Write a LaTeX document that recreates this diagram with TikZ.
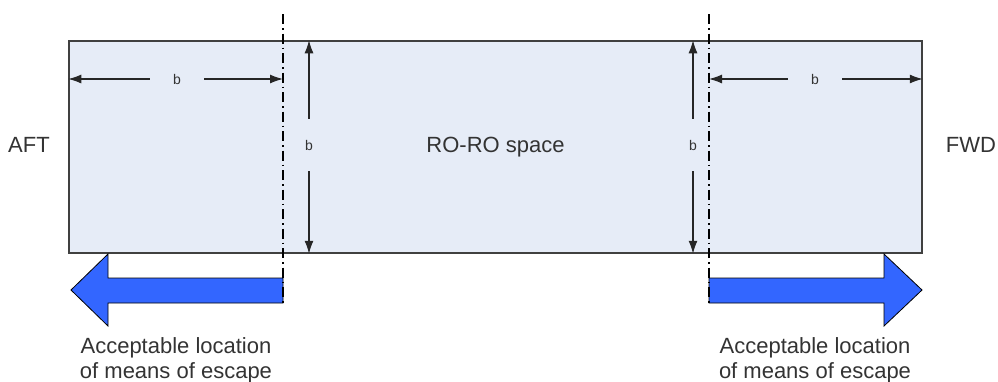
\documentclass[tikz,border=0pt]{standalone}
\usepackage{fontspec}
\setmainfont{Liberation Sans}
\usetikzlibrary{arrows.meta,positioning}
\definecolor{spacecolor}{HTML}{E6ECF7}
\definecolor{escapecolor}{HTML}{3366FF}
\definecolor{inkcolor}{HTML}{333333}

\begin{document}
\begin{tikzpicture}[x=1pt, y=-1pt,
  space/.style={draw=black!75, line width=1.5pt, fill=spacecolor,
                minimum width=853pt, minimum height=212pt, inner sep=0pt,
                font=\fontsize{22}{25}\selectfont, text=inkcolor},
  lbl/.style={font=\fontsize{22}{25}\selectfont, text=inkcolor,
              align=center, inner sep=0pt},
  dimlbl/.style={font=\fontsize{14}{16}\selectfont, text=inkcolor, inner sep=0pt},
  dim/.style={-{Latex[length=13pt,width=9pt]}, line width=1.2pt, black!85},
  cut/.style={line width=2pt, dash pattern=on 10pt off 4pt on 1.5pt off 4pt},
  escape/.style={draw=black, line width=0.8pt, fill=escapecolor},
]
  \useasboundingbox (0,0) rectangle (998,381);

  % ── Deck ────────────────────────
  \node[space] (roro) at (495.5,147) {RO-RO space};
  \node[lbl] (aft) at (29,145) {AFT};
  \node[lbl] (fwd) at (971,145) {FWD};

  % ── Limits of the b zones ───────
  \coordinate (cutA) at (283,14);
  \coordinate (cutAend) at (283,306);
  \coordinate (cutB) at (709,14);
  \coordinate (cutBend) at (709,306);

  % ── Dimensions ──────────────────
  \node[dimlbl, minimum width=54pt] (bA) at (177,79) {b};
  \draw[dim] (bA) -- (roro.west |- bA);
  \draw[dim] (bA) -- (cutA |- bA);

  \node[dimlbl, minimum height=52pt] (bB) at (309,145) {b};
  \draw[dim] (bB) -- (bB |- roro.north);
  \draw[dim] (bB) -- (bB |- roro.south);

  \node[dimlbl, minimum height=52pt] (bC) at (693,145) {b};
  \draw[dim] (bC) -- (bC |- roro.north);
  \draw[dim] (bC) -- (bC |- roro.south);

  \node[dimlbl, minimum width=54pt] (bD) at (815,79) {b};
  \draw[dim] (bD) -- (cutB |- bD);
  \draw[dim] (bD) -- (roro.east |- bD);

  % ── Means of escape ─────────────
  \draw[escape] (283,278) -- (108,278) -- (108,254) -- (71,290)
        -- (108,326) -- (108,303) -- (283,303) -- cycle;
  \draw[escape] (709,278) -- (884,278) -- (884,254) -- (922,290)
        -- (884,326) -- (884,303) -- (709,303) -- cycle;

  \draw[cut] (cutA) -- (cutAend);
  \draw[cut] (cutB) -- (cutBend);

  \node[lbl] (escA) at (176,360) {Acceptable location\\of means of escape};
  \node[lbl] (escB) at (815,360) {Acceptable location\\of means of escape};
\end{tikzpicture}
\end{document}
